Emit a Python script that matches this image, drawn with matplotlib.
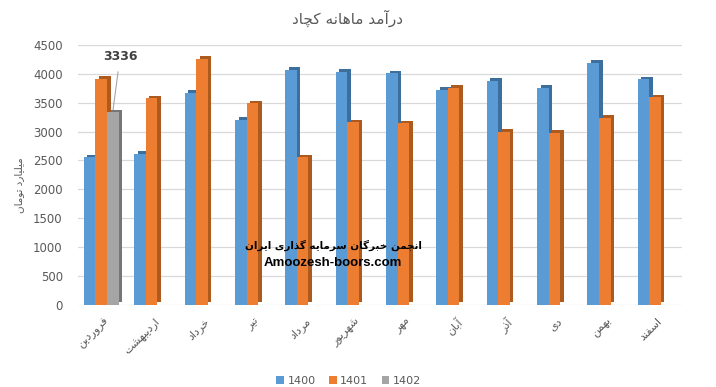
import matplotlib.pyplot as plt
import numpy as np

months = ["فروردین", "اردیبهشت", "خرداد", "تیر", "مرداد", "شهریور",
          "مهر", "آبان", "آذر", "دی", "بهمن", "اسفند"]
y1400 = [2555, 2612, 3673, 3201, 4066, 4037, 4009, 3720, 3881, 3760, 4192, 3905]
y1401 = [3910, 3576, 4256, 3489, 2555, 3161, 3144, 3760, 2998, 2981, 3241, 3593]
y1402 = [3336, None, None, None, None, None, None, None, None, None, None, None]
series = ["1400", "1401", "1402"]
title = "درآمد ماهانه کچاد"
ylabel = "میلیارد تومان"
watermark = "انجمن خبرگان سرمایه گذاری ایران"
site = "Amoozesh-boors.com"

# arabic presentation forms: isolated, final, (initial, medial)
FORMS = {
    "ا": "\uFE8D\uFE8E", "آ": "\uFE81\uFE82", "د": "\uFEA9\uFEAA",
    "ذ": "\uFEAB\uFEAC", "ر": "\uFEAD\uFEAE", "و": "\uFEED\uFEEE",
    "ب": "\uFE8F\uFE90\uFE91\uFE92", "ت": "\uFE95\uFE96\uFE97\uFE98",
    "ج": "\uFE9D\uFE9E\uFE9F\uFEA0", "چ": "\uFB7A\uFB7B\uFB7C\uFB7D",
    "خ": "\uFEA5\uFEA6\uFEA7\uFEA8", "س": "\uFEB1\uFEB2\uFEB3\uFEB4",
    "ش": "\uFEB5\uFEB6\uFEB7\uFEB8", "ف": "\uFED1\uFED2\uFED3\uFED4",
    "ک": "\uFB8E\uFB8F\uFB90\uFB91", "گ": "\uFB92\uFB93\uFB94\uFB95",
    "ل": "\uFEDD\uFEDE\uFEDF\uFEE0", "م": "\uFEE1\uFEE2\uFEE3\uFEE4",
    "ن": "\uFEE5\uFEE6\uFEE7\uFEE8", "ه": "\uFEE9\uFEEA\uFEEB\uFEEC",
    "ی": "\uFBFC\uFBFD\uFBFE\uFBFF",
}


def shape(text):
    out = []
    for i, ch in enumerate(text):
        f = FORMS.get(ch)
        if f is None:
            out.append(ch)
            continue
        prev = text[i - 1] if i > 0 else ""
        nxt = text[i + 1] if i + 1 < len(text) else ""
        jp = prev in FORMS and len(FORMS[prev]) == 4
        jn = len(f) == 4 and nxt in FORMS
        if jp and jn:
            out.append(f[3])
        elif jp:
            out.append(f[1])
        elif jn:
            out.append(f[2])
        else:
            out.append(f[0])
    return "".join(out)[::-1]


plt.rcParams["font.family"] = ["DejaVu Sans"]
grey = "#595959"

fig = plt.figure(figsize=(7.16, 3.87), dpi=100)
ax = fig.add_axes([0.109, 0.212, 0.844, 0.672])

x = np.arange(len(months))
w = 0.229
dx, dy = 0.07, 45
fronts = ["#5b9bd5", "#ed7d31", "#a5a5a5"]
sides = ["#3d6f9e", "#ad5a1f", "#767676"]
handles = []
for k, vals in enumerate([y1400, y1401, y1402]):
    xs = np.array([x[i] for i, v in enumerate(vals) if v is not None]) + (k - 1) * w - 0.04
    vs = np.array([v for v in vals if v is not None], dtype=float)
    ax.bar(xs + dx, vs, w, bottom=dy, color=sides[k], zorder=2 + 2 * k)
    b = ax.bar(xs, vs, w, color=fronts[k], zorder=3 + 2 * k, label=series[k])
    handles.append(b)

ax.set_xlim(-0.5, 11.5)
ax.set_ylim(0, 4500)
ax.set_yticks(np.arange(0, 4501, 500))
ax.yaxis.grid(True, color="#d9d9d9", lw=0.9, zorder=0)
ax.set_axisbelow(True)
for s in ax.spines.values():
    s.set_visible(False)
ax.tick_params(axis="y", length=0, pad=11, labelsize=8.5, labelcolor=grey)
ax.tick_params(axis="x", length=0, pad=8, labelsize=8, labelcolor=grey)
ax.set_xticks(x)
ax.set_xticklabels([shape(m) for m in months], rotation=45, ha="right",
                   rotation_mode="anchor")

# data label for 1402
ax.annotate("3336", xy=(0 + w - 0.04, y1402[0]), xytext=(120 / 716, 1 - 57 / 387),
            textcoords="figure fraction", ha="center", va="center",
            fontsize=9, fontweight="bold", color="#404040",
            arrowprops=dict(arrowstyle="-", color="#a6a6a6", lw=0.8, shrinkA=4, shrinkB=0))

fig.text(0.486, 0.953, shape(title), ha="center", va="center", fontsize=11, color=grey)
fig.text(0.027, 0.522, shape(ylabel), rotation=90, ha="center", va="center",
         fontsize=7.5, color=grey)
fig.text(0.466, 0.367, shape(watermark), ha="center", va="center", fontsize=7.5,
         fontweight="bold", color="black", zorder=20)
fig.text(0.465, 0.320, site, ha="center", va="center", fontsize=9.5,
         fontweight="bold", color="black", family=["Liberation Sans", "DejaVu Sans"],
         zorder=20)

fig.legend(handles=handles, loc="lower center", bbox_to_anchor=(0.487, -0.022), ncol=3,
           frameon=False, fontsize=8, handlelength=0.7, handleheight=0.7,
           handletextpad=0.3, columnspacing=1.2, labelcolor=grey)

fig.savefig("out.png", dpi=100)
